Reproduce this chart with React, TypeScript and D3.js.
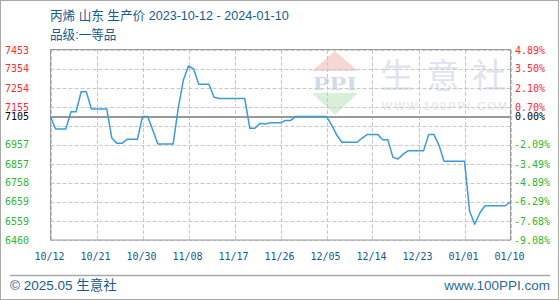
import React from "react";
import * as d3 from "d3";

const W = 560;
const H = 300;

const title = "丙烯 山东 生产价 2023-10-12 - 2024-01-10";
const subtitle = "品级:一等品";
const baseValue = 7105;

const startDate = "2023-10-12";
const endDate = "2024-01-10";

// daily prices from 2023-10-12 to 2024-01-10
const prices = [
  7105, 7040, 7040, 7040, 7130, 7130, 7235, 7235, 7145, 7145,
  7145, 7145, 6993, 6965, 6965, 6986, 6986, 6986, 7105, 7105,
  7035, 6962, 6962, 6962, 6962, 7150, 7296, 7369, 7354, 7274,
  7274, 7274, 7206, 7200, 7200, 7200, 7200, 7200, 7200, 7044,
  7044, 7070, 7066, 7073, 7073, 7073, 7085, 7085, 7105, 7105,
  7105, 7105, 7105, 7105, 7105, 7061, 7009, 6971, 6971, 6971,
  6971, 6993, 7012, 7012, 7012, 6984, 6984, 6892, 6883, 6909,
  6927, 6927, 6927, 6927, 7012, 7012, 6956, 6871, 6871, 6871,
  6871, 6871, 6610, 6542, 6601, 6639, 6639, 6639, 6639, 6639,
  6660,
];

const xTickLabels = ["10/12", "10/21", "10/30", "11/08", "11/17", "11/26", "12/05", "12/14", "12/23", "01/01", "01/10"];
const xTickDates = ["2023-10-12", "2023-10-21", "2023-10-30", "2023-11-08", "2023-11-17", "2023-11-26", "2023-12-05", "2023-12-14", "2023-12-23", "2024-01-01", "2024-01-10"];

const yTicks = [6460, 6559, 6659, 6758, 6857, 6957, 7056, 7155, 7254, 7354, 7453];
const yLeftLabels = ["6460", "6559", "6659", "6758", "6857", "6957", "", "7155", "7254", "7354", "7453"];
const yRightLabels = ["-9.08%", "-7.68%", "-6.29%", "-4.89%", "-3.49%", "-2.09%", "", "0.70%", "2.10%", "3.50%", "4.89%"];
const baseLeftLabel = "7105";
const baseRightLabel = "0.00%";

const parse = d3.timeParse("%Y-%m-%d");

export default function App() {
  const x0 = 50.5, x1 = 510.5, yTop = 50, yBot = 240;
  const start = parse(startDate) as Date;
  const end = parse(endDate) as Date;
  const days = d3.timeDay.range(start, d3.timeDay.offset(end, 1));
  const data = days.map((d, i) => ({ d, v: prices[i] })).filter((p) => p.v !== undefined);

  const x = d3.scaleTime().domain([start, end]).range([x0, x1]);
  const y = d3.scaleLinear().domain([6460, 7453]).range([yBot, yTop]);

  const line = d3
    .line<{ d: Date; v: number }>()
    .x((p) => x(p.d))
    .y((p) => y(p.v));

  const red = "#ff2a2a";
  const green = "#2fb52f";
  const blue = "#165a8e";
  const monoFont = "'DejaVu Sans Mono', 'Liberation Mono', monospace";
  const sansFont = "'Liberation Sans', Arial, 'Noto Sans CJK SC', sans-serif";
  const baseY = Math.round(y(baseValue));

  return (
    <svg
      width={W}
      height={H}
      style={{ position: "absolute", left: 0, top: 0, background: "#fff" }}
      xmlns="http://www.w3.org/2000/svg"
    >
      <rect x={0.5} y={0.5} width={W - 2} height={H - 1} fill="#fff" stroke="#a8a8a8" />

      {/* watermark */}
      <g>
        <polygon points="312,71 358,71 335,51" fill="#f7d7d3" />
        <text x={335} y={90} textAnchor="middle" fontFamily="'Liberation Serif', serif" fontWeight="bold" fontSize={19} fill="#d3dbea" textLength={44} lengthAdjust="spacingAndGlyphs">PPI</text>
        <polygon points="312,93 358,93 335,115" fill="#d9efd9" />
        {["生", "意", "社"].map((c, i) => (
          <text key={c} x={397 + i * 46} y={88} textAnchor="middle" fontFamily="'Noto Sans CJK SC', sans-serif" fontSize={34} fill="#dfe4ee">{c}</text>
        ))}
        <text x={382} y={110} fontFamily={sansFont} fontSize={11} fill="#e2e2e2" textLength={125} lengthAdjust="spacing">WWW.100PPI.COM</text>
      </g>

      {/* grid */}
      {yTicks.map((t) => (
        <line key={"h" + t} x1={x0} x2={x1} y1={Math.round(y(t)) + 0.5} y2={Math.round(y(t)) + 0.5} stroke="#c8c8c8" strokeDasharray="4,2" />
      ))}
      {xTickDates.map((t) => {
        const xx = Math.round(x(parse(t) as Date)) + 0.5;
        return <line key={"v" + t} x1={xx} x2={xx} y1={yTop} y2={yBot} stroke="#c8c8c8" strokeDasharray="4,2" />;
      })}

      {/* plot border */}
      <rect x={x0} y={yTop - 0.5} width={x1 - x0} height={yBot - yTop + 0.5} fill="none" stroke="#9a9a9a" />
      <line x1={x0} x2={x1} y1={baseY} y2={baseY} stroke="#999" strokeWidth={2} />

      {/* series */}
      <path d={line(data) || ""} fill="none" stroke="#3a9bdc" strokeWidth={1.5} strokeLinejoin="round" />

      {/* left y labels */}
      {yTicks.map((t, i) =>
        yLeftLabels[i] ? (
          <text key={"l" + t} x={5} y={y(t) + 3.5} fontFamily={monoFont} fontSize={10} fill={t > baseValue ? red : green}>
            {yLeftLabels[i]}
          </text>
        ) : null
      )}
      <text x={5} y={y(baseValue) + 3.5} fontFamily={monoFont} fontSize={10} fill="#000">{baseLeftLabel}</text>

      {/* right y labels */}
      {yTicks.map((t, i) =>
        yRightLabels[i] ? (
          <text key={"r" + t} x={t > baseValue ? 515 : 514} y={y(t) + 3.5} fontFamily={monoFont} fontSize={10} fill={t > baseValue ? red : green}>
            {yRightLabels[i]}
          </text>
        ) : null
      )}
      <text x={515} y={y(baseValue) + 3.5} fontFamily={monoFont} fontSize={10} fill="#000">{baseRightLabel}</text>

      {/* x labels */}
      {xTickDates.map((t, i) => (
        <text key={"x" + t} x={x(parse(t) as Date) - 1} y={260} textAnchor="middle" fontFamily={monoFont} fontSize={10} fill={blue}>
          {xTickLabels[i]}
        </text>
      ))}

      {/* title */}
      <text x={50} y={20} fontFamily={sansFont} fontSize={12.6} fill={blue}>{title}</text>
      <text x={50} y={39} fontFamily={sansFont} fontSize={12.6} fill={blue}>{subtitle}</text>

      {/* footer */}
      <line x1={10} x2={550} y1={275.5} y2={275.5} stroke="#a8a8a8" strokeWidth={1.5} />
      <text x={10} y={290} fontFamily={sansFont} fontSize={13.5} fill={blue}>© 2025.05 生意社</text>
      <text x={550} y={290} textAnchor="end" fontFamily={sansFont} fontSize={13.5} fill="#2a6a98">www.100PPI.com</text>
    </svg>
  );
}
